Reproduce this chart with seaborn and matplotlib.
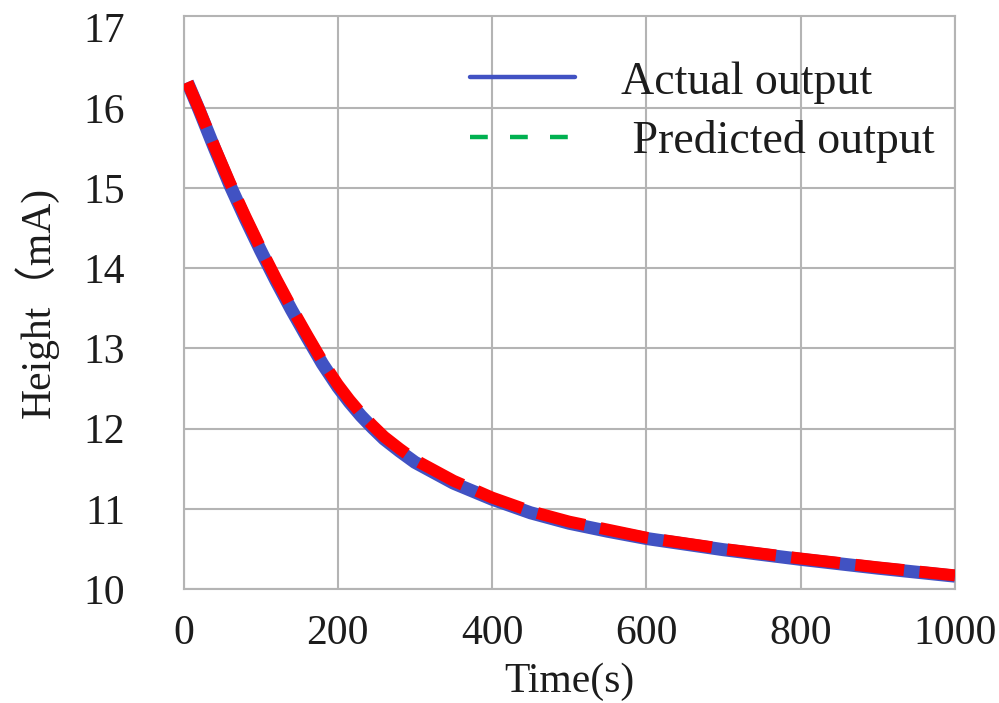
import numpy as np
import pandas as pd
import matplotlib
matplotlib.use("Agg")
import matplotlib.pyplot as plt
from matplotlib.lines import Line2D
import seaborn as sns

# ---- data ----
time_s = [5, 20, 40, 60, 80, 100, 120, 140, 160, 180, 200, 215, 230, 245, 260, 280,
          300, 350, 400, 450, 500, 550, 600, 700, 800, 900, 1000]
actual_output = [16.32, 15.98, 15.50, 15.04, 14.62, 14.22, 13.84, 13.48, 13.14, 12.81,
                 12.52, 12.33, 12.16, 12.01, 11.87, 11.72, 11.58, 11.32, 11.12, 10.95,
                 10.82, 10.72, 10.63, 10.49, 10.37, 10.26, 10.16]
predicted_output = [16.32, 15.99, 15.52, 15.07, 14.65, 14.25, 13.87, 13.51, 13.17, 12.84,
                    12.55, 12.36, 12.19, 12.04, 11.90, 11.75, 11.61, 11.35, 11.14, 10.97,
                    10.84, 10.74, 10.64, 10.50, 10.38, 10.27, 10.17]
x_ticks = [0, 200, 400, 600, 800, 1000]
y_ticks = [10, 11, 12, 13, 14, 15, 16, 17]
legend_labels = ["Actual output", " Predicted output"]

BLUE = "#4152C3"
RED = "#FF0000"
GREEN = "#00B050"
GRID = "#B4B4B4"
TXT = "#1C1C1C"

sns.set_theme(style="whitegrid")
plt.rcParams["font.family"] = ["Liberation Serif", "DejaVu Serif"]

df = pd.DataFrame({"t": time_s, "actual": actual_output, "pred": predicted_output})

fig = plt.figure(figsize=(9.99, 7.03), dpi=100)
ax = fig.add_axes([183.5 / 999, 1 - 589 / 703, (955 - 183.5) / 999, (589 - 15.7) / 703])

sns.lineplot(data=df, x="t", y="actual", ax=ax, color=BLUE, linewidth=9.4,
             solid_capstyle="butt", solid_joinstyle="round", zorder=3)
sns.lineplot(data=df, x="t", y="pred", ax=ax, color=RED, linewidth=8.6,
             zorder=4)
red_line = ax.get_lines()[-1]
red_line.set_dashes([4.1, 1.3])
red_line.set_dash_capstyle("butt")
red_line.set_dash_joinstyle("round")

ax.set_xlim(0, 1000)
ax.set_ylim(10, 17.15)
ax.set_xticks(x_ticks)
ax.set_yticks(y_ticks)
ax.set_facecolor("white")
ax.grid(True, color=GRID, linewidth=1.5)
ax.get_ygridlines()[-1].set_visible(False)
for s in ax.spines.values():
    s.set_visible(True)
    s.set_color(GRID)
    s.set_linewidth(1.5)

ax.tick_params(axis="both", length=0, labelsize=30, colors=TXT)
ax.tick_params(axis="x", pad=18)
ax.tick_params(axis="y", pad=42)

ax.set_xlabel("Time(s)", fontsize=30, color=TXT, labelpad=7)
ax.set_ylabel("Height（mA)", fontsize=30, color=TXT, labelpad=18,
              family=["Liberation Serif", "Noto Sans CJK SC"])

handles = [Line2D([], [], color=BLUE, linewidth=3.2),
           Line2D([], [], color=GREEN, linewidth=3.2, linestyle=(0, (4, 5)))]
leg = fig.legend(handles, legend_labels, loc="upper left",
                 bbox_to_anchor=(470 / 999, 1 - 61 / 703),
                 frameon=False, fontsize=33, handlelength=2.3,
                 handletextpad=1.0, labelspacing=0.36, borderpad=0,
                 borderaxespad=0)
for t in leg.get_texts():
    t.set_color(TXT)

fig.savefig("out.png", dpi=100, facecolor="white")
